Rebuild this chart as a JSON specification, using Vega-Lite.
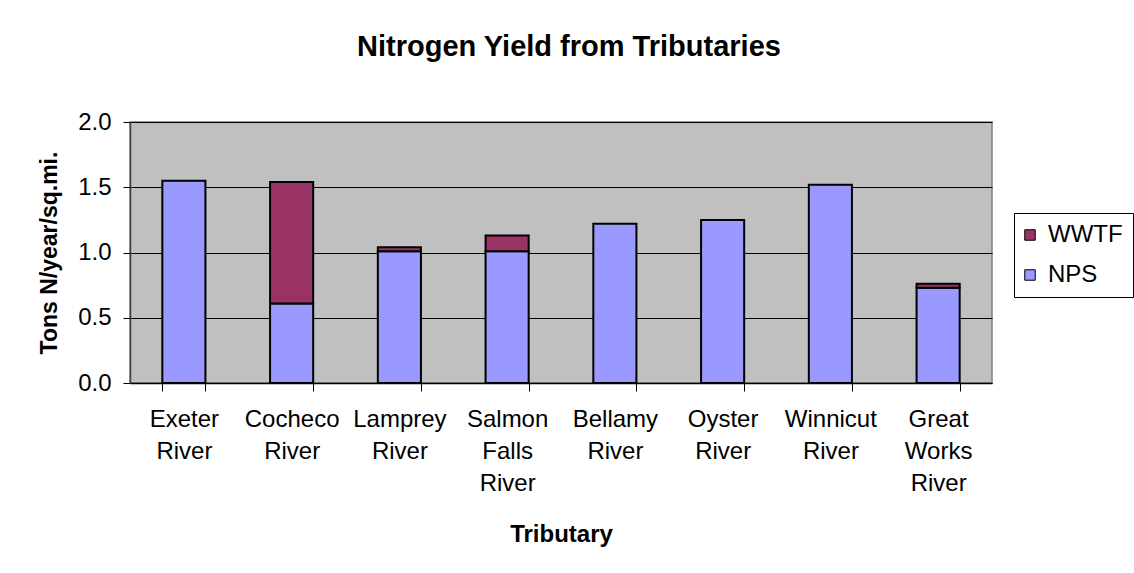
{
  "$schema": "https://vega.github.io/schema/vega-lite/v6.json",
  "width": 862,
  "height": 261,
  "autosize": {"type": "none"},
  "padding": {"left": 130, "top": 122, "right": 142, "bottom": 190},
  "background": "white",
  "title": {
    "text": "Nitrogen Yield from Tributaries",
    "font": "Liberation Sans",
    "fontSize": 29,
    "fontWeight": "bold",
    "color": "black",
    "anchor": "middle",
    "offset": 48,
    "dx": 8
  },
  "data": {
    "values": [
      {"tributary": "Exeter River", "series": "NPS", "value": 1.55},
      {"tributary": "Cocheco River", "series": "NPS", "value": 0.61},
      {"tributary": "Cocheco River", "series": "WWTF", "value": 0.93},
      {"tributary": "Lamprey River", "series": "NPS", "value": 1.01},
      {"tributary": "Lamprey River", "series": "WWTF", "value": 0.03},
      {"tributary": "Salmon Falls River", "series": "NPS", "value": 1.01},
      {"tributary": "Salmon Falls River", "series": "WWTF", "value": 0.12},
      {"tributary": "Bellamy River", "series": "NPS", "value": 1.22},
      {"tributary": "Oyster River", "series": "NPS", "value": 1.25},
      {"tributary": "Winnicut River", "series": "NPS", "value": 1.52},
      {"tributary": "Great Works River", "series": "NPS", "value": 0.73},
      {"tributary": "Great Works River", "series": "WWTF", "value": 0.03}
    ]
  },
  "mark": {"type": "bar", "stroke": "black", "strokeWidth": 2},
  "encoding": {
    "x": {
      "field": "tributary",
      "type": "nominal",
      "sort": ["Exeter River", "Cocheco River", "Lamprey River", "Salmon Falls River", "Bellamy River", "Oyster River", "Winnicut River", "Great Works River"],
      "scale": {"paddingInner": 0.6, "paddingOuter": 0.3},
      "axis": {
        "title": "Tributary",
        "titleFont": "Liberation Sans",
        "titleFontSize": 24,
        "titleFontWeight": "bold",
        "titleColor": "black",
        "titlePadding": 27,
        "labelFont": "Liberation Sans",
        "labelFontSize": 24,
        "labelColor": "black",
        "labelAngle": 0,
        "labelBaseline": "top",
        "labelLineHeight": 32,
        "labelPadding": 16,
        "labelExpr": "split(datum.label, ' ')",
        "tickBand": "extent",
        "tickSize": 8,
        "tickColor": "black",
        "domainColor": "black",
        "domainWidth": 1.5,
        "grid": false
      }
    },
    "y": {
      "field": "value",
      "type": "quantitative",
      "stack": "zero",
      "scale": {"domain": [0, 2], "nice": false},
      "axis": {
        "title": "Tons N/year/sq.mi.",
        "titleFont": "Liberation Sans",
        "titleFontSize": 23,
        "titleFontWeight": "bold",
        "titleColor": "black",
        "titlePadding": 16,
        "values": [0, 0.5, 1, 1.5, 2],
        "format": ".1f",
        "labelFont": "Liberation Sans",
        "labelFontSize": 24,
        "labelColor": "black",
        "labelPadding": 12,
        "tickSize": 7,
        "tickColor": "black",
        "domainColor": "#404040",
        "domainWidth": 1.5,
        "grid": true,
        "gridColor": "black",
        "gridWidth": 1
      }
    },
    "color": {
      "field": "series",
      "type": "nominal",
      "scale": {"domain": ["WWTF", "NPS"], "range": ["#993366", "#9999FF"]},
      "legend": {
        "title": null,
        "orient": "none",
        "legendX": 884,
        "legendY": 91,
        "symbolType": "square",
        "symbolSize": 110,
        "symbolStrokeColor": "black",
        "symbolStrokeWidth": 1,
        "symbolOpacity": 1,
        "symbolOffset": -6,
        "labelFont": "Liberation Sans",
        "labelFontSize": 24,
        "labelColor": "black",
        "labelOffset": 6,
        "rowPadding": 16,
        "padding": 10,
        "strokeColor": "black",
        "fillColor": "white"
      }
    },
    "order": {"field": "series", "sort": "ascending"}
  },
  "config": {
    "view": {"fill": "#C0C0C0", "stroke": "#808080", "strokeWidth": 1.5},
    "bar": {"fillOpacity": 1}
  }
}
